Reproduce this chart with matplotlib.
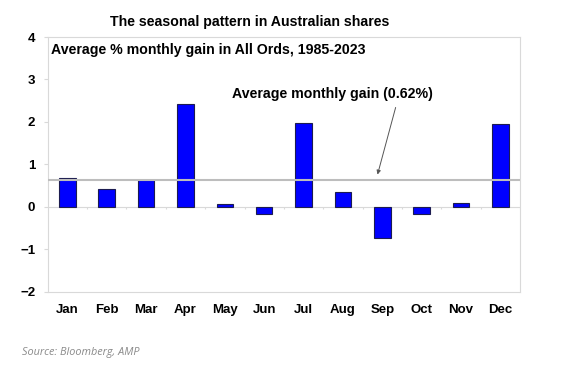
import matplotlib
matplotlib.use("Agg")
import matplotlib.pyplot as plt
import numpy as np

months = ["Jan", "Feb", "Mar", "Apr", "May", "Jun", "Jul", "Aug", "Sep", "Oct", "Nov", "Dec"]
gains = [0.68, 0.43, 0.62, 2.43, 0.06, -0.17, 1.98, 0.36, -0.73, -0.18, 0.09, 1.96]
avg_gain = 0.62
title = "The seasonal pattern in Australian shares"
subtitle = "Average % monthly gain in All Ords, 1985-2023"
avg_label = "Average monthly gain (0.62%)"
source = "Source: Bloomberg, AMP"

plt.rcParams['font.family'] = ['Liberation Sans', 'DejaVu Sans']

fig = plt.figure(figsize=(5.64, 3.73), dpi=100)
ax = fig.add_axes([0.0846, 0.218, 0.922 - 0.0846, 0.9008 - 0.218])

x = np.arange(len(months))
ax.bar(x, gains, width=0.42, color="#0000FF", edgecolor="#1c1c50", linewidth=0.8, zorder=3)
ax.axhline(avg_gain, color="#bdbdbd", linewidth=1.5, zorder=4)
ax.axhline(0, color="#d9d9d9", linewidth=0.8, zorder=2)
bounds = np.arange(len(months) + 1) - 0.5
ax.vlines(bounds, -0.06, 0, color="#d9d9d9", linewidth=0.8, zorder=2)

ax.set_xlim(-0.5, len(months) - 0.5)
ax.set_ylim(-2, 4)
ax.set_yticks(range(-2, 5))
ax.set_xticks(x)
ax.set_xticklabels(months)
for lab in ax.get_xticklabels() + ax.get_yticklabels():
    lab.set_fontweight("bold")
    lab.set_fontsize(9.5)
ax.tick_params(axis="x", length=0, pad=9)
ax.tick_params(axis="y", length=3, color="#d9d9d9", pad=6)
for s in ax.spines.values():
    s.set_color("#d9d9d9")
    s.set_linewidth(0.8)

fig.text(0.443, 0.921, title, ha="center", va="bottom", fontsize=10.2, fontweight="bold")
ax.text(0.007, 0.977, subtitle, transform=ax.transAxes, ha="left", va="top",
        fontsize=10.2, fontweight="bold")
ax.text(4.18, 2.65, avg_label, ha="left", va="center", fontsize=10.2, fontweight="bold")
ax.annotate("", xy=(7.88, 0.76), xytext=(8.34, 2.34),
            arrowprops=dict(arrowstyle="-|>", color="#555555", lw=0.7,
                            mutation_scale=6, shrinkA=0, shrinkB=0))

fig.text(0.039, 0.056, source, ha="left", va="center", fontsize=7.8,
         fontstyle="italic", color="#8a8a8a", family=["Open Sans", "DejaVu Sans"])

fig.savefig("out.png", dpi=100)
